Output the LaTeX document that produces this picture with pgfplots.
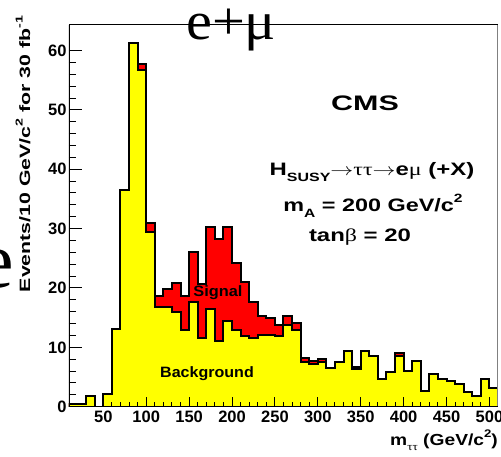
\documentclass[border=0pt]{standalone}
\usepackage{pgfplots}
\pgfplotsset{compat=1.18}
\usepackage{fontspec}
\setmainfont{Liberation Sans}
\newfontfamily\serif{Liberation Serif}
\definecolor{hyellow}{RGB}{255,255,0}
\definecolor{hred}{RGB}{255,0,0}
\newcommand{\fs}[1]{\fontsize{#1}{#1}\selectfont}
\newcommand{\lo}[2]{\raisebox{-0.3em}{\fs{#1}#2}}
\newcommand{\hi}[2]{\raisebox{0.5em}{\fs{#1}#2}}
\newcommand{\sx}[2]{\scalebox{#1}[1]{#2}}
\begin{document}
\begin{tikzpicture}[x=1pt,y=1pt]
\useasboundingbox (0,0) rectangle (501,456);
\begin{axis}[
  at={(69pt,49.3pt)}, anchor=south west,
  scale only axis, width=429pt, height=381.7pt,
  xmin=10, xmax=510, ymin=0, ymax=64.3,
  axis on top, axis line style={draw=none},
  xtick={50,100,...,500}, ytick={0,10,...,60},
  minor x tick num=4, minor y tick num=4,
  xtick pos=bottom, ytick pos=left, tick align=inside,
  xtick style={/pgfplots/major tick length=9.5pt,/pgfplots/minor tick length=5pt,line width=1pt,black},
  ytick style={/pgfplots/major tick length=13pt,/pgfplots/minor tick length=7pt,line width=1pt,black},
  /pgf/number format/assume math mode=true,
  tick label style={font=\fs{16.5}\bfseries},
  xticklabel style={yshift=-1pt},
  yticklabel style={xshift=1pt},
]
\addplot[const plot, fill=hred, draw=black, line width=2pt] coordinates {
(10,0.5)(20,0.5)(30,1.85)(40,0)(50,2.2)(60,13.1)(70,36.5)(80,61.2)(90,57.8)
(100,31.0)(110,18.6)(120,19.8)(130,20.8)(140,18.6)(150,26.1)(160,20.7)(170,30.3)(180,28.2)(190,30.3)
(200,24.2)(210,21.0)(220,17.6)(230,15.35)(240,14.9)(250,13.7)(260,15.35)(270,14.1)(280,8.2)(290,7.75)
(300,8.0)(310,6.5)(320,7.6)(330,9.3)(340,6.7)(350,9.3)(360,8.6)(370,4.6)(380,5.8)(390,9.0)
(400,6.06)(410,7.7)(420,2.6)(430,5.5)(440,4.66)(450,4.4)(460,3.8)(470,2.4)(480,1.8)(490,4.66)
(500,3.1)(510,3.1)} \closedcycle;
\addplot[const plot, fill=hyellow, draw=black, line width=2pt] coordinates {
(10,0.5)(20,0.5)(30,1.85)(40,0)(50,2.2)(60,13.1)(70,36.5)(80,61.2)(90,56.8)
(100,29.5)(110,16.8)(120,16.8)(130,15.9)(140,13.0)(150,17.6)(160,11.6)(170,16.5)(180,11.1)(190,14.4)
(200,12.9)(210,11.9)(220,11.5)(230,12.0)(240,12.1)(250,11.9)(260,13.8)(270,12.9)(280,7.5)(290,7.25)
(300,7.6)(310,6.5)(320,7.6)(330,9.3)(340,6.3)(350,9.3)(360,8.6)(370,4.6)(380,5.8)(390,8.6)
(400,6.06)(410,7.7)(420,2.6)(430,5.5)(440,4.66)(450,4.4)(460,3.8)(470,2.4)(480,1.8)(490,4.66)
(500,3.1)(510,3.1)} \closedcycle;
\draw[black,line width=1pt] (rel axis cs:0,1) -- (rel axis cs:1,1);
\draw[gray,line width=1.5pt] (rel axis cs:1,0) -- (rel axis cs:1,1);
\draw[black,line width=2pt] (rel axis cs:0,0) -- (rel axis cs:0,1);
\draw[black,line width=2pt] (rel axis cs:0,0) -- (rel axis cs:1,0);
\end{axis}
\node[font=\fs{21}\bfseries] at (365,353) {\sx{1.45}{CMS}};
\node[font=\fs{18}\bfseries] at (372,284) {\sx{1.33}{H\lo{12}{SUSY}$\rightarrow${\serif\mdseries ττ}$\rightarrow$e{\serif\mdseries μ} (+X)}};
\node[font=\fs{18}\bfseries] at (373,250) {\sx{1.3}{m\lo{12}{A} = 200 GeV/c\hi{12}{2}}};
\node[font=\fs{18}\bfseries] at (360,219) {\sx{1.33}{tan{\serif\mdseries β} = 20}};
\node[font=\fs{15}\bfseries] at (218,163) {\sx{1.09}{Signal}};
\node[font=\fs{15}\bfseries] at (207,82) {\sx{1.07}{Background}};
\node[font=\fs{16}\bfseries, anchor=east, inner sep=0] at (498,16) {\sx{1.2}{m\lo{11}{{\serif\mdseries ττ}} (GeV/c\hi{11}{2})}};
\node[font=\fs{15}\bfseries, rotate=90] at (23,302) {\sx{1.42}{Events/10 GeV/c\hi{10}{2} for 30 fb\hi{10}{-1}}};
\node[font=\serif\fs{54}, anchor=base west, inner sep=0] at (186,416) {\sx{1.08}{e+μ}};
\node[font=\serif\fs{80}, anchor=base east, inner sep=0] at (14,168) {e};
\end{tikzpicture}
\end{document}
